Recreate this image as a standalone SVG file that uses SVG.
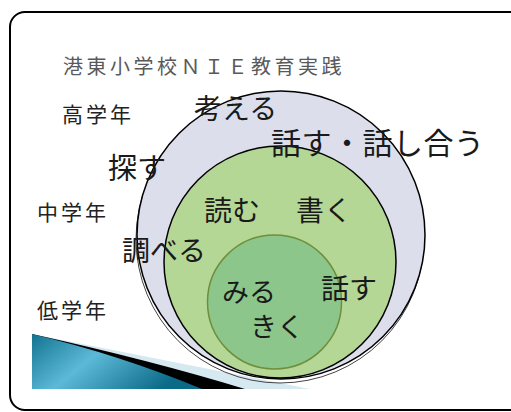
<svg xmlns="http://www.w3.org/2000/svg" width="511" height="412" viewBox="0 0 511 412">
<defs>
<style>
.t{font-family:"Noto Sans CJK JP","Noto Sans",sans-serif;fill:#1a1a1a;font-size:28px}
.g{font-family:"Noto Sans CJK JP","Noto Sans",sans-serif;fill:#222;font-size:21px;letter-spacing:3px}
.ttl{font-family:"Noto Sans CJK JP","Noto Sans",sans-serif;fill:#595959;font-size:20px;letter-spacing:3.5px}
</style>
<linearGradient id="blue" x1="0" y1="0" x2="1" y2="0.4">
<stop offset="0" stop-color="#13738f"/>
<stop offset="0.45" stop-color="#5cbad8"/>
<stop offset="1" stop-color="#0b6a88"/>
</linearGradient>
</defs>
<rect width="511" height="412" fill="#fff"/>
<rect id="frame" x="10" y="12" width="530" height="398" rx="15" fill="#fff" stroke="#000" stroke-width="2"/>
<g id="wedge">
<polygon points="32,334 310,389 32,389" fill="#d6e9f0"/>
<path d="M32,334 Q150,360 245,389 L32,389 Z" fill="#000"/>
<path d="M32,334 Q120,355 202,389 L32,389 Z" fill="url(#blue)"/>
</g>
<g id="outer">
<circle cx="281" cy="237" r="144" fill="none" stroke="#444" stroke-width="1" transform="translate(-1,2)"/>
<circle cx="281" cy="235" r="144" fill="#dcdeeb" stroke="#000" stroke-width="1.5"/>
</g>
<g id="middle">
<circle cx="280" cy="262" r="116" fill="#b4d795" stroke="#000" stroke-width="1.5"/>
</g>
<g id="inner">
<circle cx="274.5" cy="302" r="67" fill="#8cc68a" stroke="#6e8f3c" stroke-width="1.5"/>
</g>
<g id="labels">
<text class="ttl" x="63" y="74">港東小学校ＮＩＥ教育実践</text>
<text class="g" x="62" y="122">高学年</text>
<text class="g" x="37" y="220">中学年</text>
<text class="g" x="37" y="318">低学年</text>
<text class="t" x="194" y="119">考える</text>
<text class="t" x="271" y="154" style="font-size:30px;letter-spacing:0.5px">話す・話し合う</text>
<text class="t" x="108" y="179" style="font-size:29px">探す</text>
<text class="t" x="204" y="221">読む</text>
<text class="t" x="296" y="221">書く</text>
<text class="t" x="122" y="261">調べる</text>
<text class="t" x="321" y="299">話す</text>
<text class="t" x="222" y="302" style="font-size:27px">みる</text>
<text class="t" x="250" y="337" style="font-size:27px">きく</text>
</g>
</svg>
